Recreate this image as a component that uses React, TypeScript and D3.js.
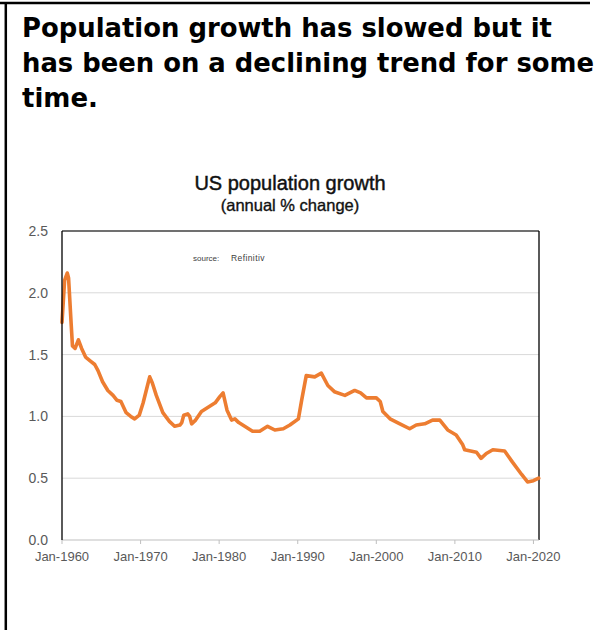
import React from "react";
import * as d3 from "d3";

const headlineLines = [
  "Population growth has slowed but it",
  "has been on a declining trend for some",
  "time.",
];
const headlineWidths = [530, 572, 0];
const chartTitle = "US population growth";
const chartSubtitle = "(annual % change)";
const sourceLabel = "source:";
const sourceName = "Refinitiv";

const yTicks = [0, 0.5, 1.0, 1.5, 2.0, 2.5];
const xTickYears = [1960, 1970, 1980, 1990, 2000, 2010, 2020];

const dates = [
  "1960-01", "1960-05", "1960-09", "1960-11", "1961-03", "1961-05", "1961-09",
  "1962-02", "1962-07", "1963-01", "1963-08", "1964-03", "1964-08", "1965-03",
  "1965-11", "1966-07", "1967-01", "1967-07", "1968-03", "1968-10", "1969-04",
  "1969-11", "1970-05", "1971-01", "1971-03", "1971-07", "1972-01", "1972-11",
  "1973-09", "1974-05", "1975-01", "1975-04", "1975-07", "1976-01", "1976-04",
  "1976-07", "1977-01", "1977-10", "1978-10", "1979-07", "1980-02", "1980-07",
  "1981-01", "1981-08", "1982-01", "1982-07", "1983-04", "1984-04", "1985-03",
  "1986-03", "1987-02", "1988-03", "1989-01", "1990-02", "1990-07", "1991-02",
  "1992-03", "1993-01", "1993-11", "1994-09", "1996-01", "1997-04", "1998-01",
  "1998-10", "2000-01", "2000-07", "2000-11", "2001-10", "2003-01", "2004-04",
  "2005-02", "2006-03", "2007-03", "2008-02", "2009-02", "2010-03", "2011-01",
  "2011-04", "2012-10", "2013-05", "2014-01", "2014-11", "2016-05", "2017-05",
  "2018-07", "2019-04", "2020-01", "2020-09",
];
const growth = [
  1.76, 2.1, 2.16, 2.12, 1.75, 1.57, 1.55,
  1.62, 1.55, 1.48, 1.45, 1.42, 1.37, 1.28,
  1.21, 1.17, 1.13, 1.12, 1.03, 1.0, 0.98,
  1.01, 1.11, 1.28, 1.32, 1.27, 1.17, 1.03,
  0.96, 0.92, 0.93, 0.95, 1.01, 1.02, 1.0,
  0.94, 0.97, 1.04, 1.08, 1.11, 1.16, 1.19,
  1.05, 0.97, 0.98, 0.95, 0.92, 0.88, 0.88,
  0.92, 0.89, 0.9, 0.93, 0.98, 1.13, 1.33,
  1.32, 1.35, 1.25, 1.2, 1.17, 1.21, 1.19,
  1.15, 1.15, 1.12, 1.04, 0.98, 0.94, 0.9,
  0.93, 0.94, 0.97, 0.97, 0.89, 0.85, 0.77,
  0.73, 0.71, 0.66, 0.7, 0.73, 0.72, 0.63,
  0.53, 0.47, 0.48, 0.5,
];

const W = 610;
const H = 630;
const plot = { left: 62, right: 539, top: 231, bottom: 540 };

export default function App() {
  const parse = d3.timeParse("%Y-%m");
  const data = dates.map((d, i) => ({ date: parse(d) as Date, value: growth[i] }));

  const x = d3
    .scaleTime()
    .domain([new Date(1960, 0, 1), new Date(2020, 8, 15)])
    .range([plot.left, plot.right]);
  const y = d3.scaleLinear().domain([0, 2.5]).range([plot.bottom, plot.top]);

  const line = d3
    .line<{ date: Date; value: number }>()
    .x((d) => x(d.date))
    .y((d) => y(d.value))
    .curve(d3.curveLinear);

  const axisFont = "'Liberation Sans', Arial, sans-serif";
  const tickColor = "#595959";

  return (
    <svg
      width={W}
      height={H}
      style={{ position: "absolute", left: 0, top: 0, background: "#fff" }}
    >
      {/* frame */}
      <line x1={0} x2={590} y1={3} y2={3} stroke="#000" strokeWidth={2.5} />
      <line x1={5.8} x2={5.8} y1={2} y2={H} stroke="#000" strokeWidth={2.5} />

      {/* headline */}
      {headlineLines.map((t, i) => (
        <text
          key={i}
          x={22}
          y={37 + i * 35}
          fontFamily="'DejaVu Sans', Verdana, sans-serif"
          fontWeight="bold"
          fontSize={26}
          fill="#000"
          {...(headlineWidths[i] ? { textLength: headlineWidths[i], lengthAdjust: "spacingAndGlyphs" } : {})}
        >
          {t}
        </text>
      ))}

      {/* chart title */}
      <text
        x={290}
        y={190}
        textAnchor="middle"
        fontFamily={axisFont}
        fontSize={20}
        fill="#111"
        stroke="#111"
        strokeWidth={0.45}
      >
        {chartTitle}
      </text>
      <text
        x={290}
        y={211}
        textAnchor="middle"
        fontFamily={axisFont}
        fontSize={16.5}
        fill="#111"
        stroke="#111"
        strokeWidth={0.35}
      >
        {chartSubtitle}
      </text>

      {/* gridlines */}
      {yTicks
        .filter((t) => t > 0 && t < 2.5)
        .map((t) => (
          <line
            key={t}
            x1={plot.left}
            x2={plot.right}
            y1={y(t)}
            y2={y(t)}
            stroke="#d9d9d9"
            strokeWidth={1}
          />
        ))}

      {/* top border */}
      <line x1={plot.left} x2={plot.right} y1={plot.top} y2={plot.top} stroke="#404040" strokeWidth={1.3} />
      {/* right border */}
      <line x1={plot.right} x2={plot.right} y1={plot.top} y2={plot.bottom} stroke="#000" strokeWidth={1.3} />
      {/* bottom axis */}
      <line x1={plot.left} x2={plot.right} y1={plot.bottom} y2={plot.bottom} stroke="#bfbfbf" strokeWidth={1} />
      {xTickYears.map((yr) => {
        const xx = x(new Date(yr, 0, 1));
        return (
          <g key={yr}>
            <line x1={xx} x2={xx} y1={plot.bottom} y2={plot.bottom + 4} stroke="#bfbfbf" strokeWidth={1} />
            <text
              x={xx}
              y={561}
              textAnchor="middle"
              fontFamily={axisFont}
              fontSize={13}
              fill={tickColor}
            >
              {`Jan-${yr}`}
            </text>
          </g>
        );
      })}

      {/* y labels */}
      {yTicks.map((t) => (
        <text
          key={t}
          x={48}
          y={y(t)}
          dy="0.35em"
          textAnchor="end"
          fontFamily={axisFont}
          fontSize={14}
          fill={tickColor}
        >
          {t.toFixed(1)}
        </text>
      ))}

      {/* source */}
      <text x={193} y={261} fontFamily={axisFont} fontSize={8} fill="#404040">
        {sourceLabel}
      </text>
      <text x={231} y={261} fontFamily={axisFont} fontSize={8.5} letterSpacing={0.4} fill="#404040">
        {sourceName}
      </text>

      {/* data line */}
      <path
        d={line(data) || ""}
        fill="none"
        stroke="#ED7D31"
        strokeWidth={3.6}
        strokeLinejoin="round"
        strokeLinecap="round"
      />

      {/* left axis */}
      <line x1={plot.left} x2={plot.left} y1={plot.top} y2={plot.bottom} stroke="#000" strokeWidth={1.3} />
    </svg>
  );
}
